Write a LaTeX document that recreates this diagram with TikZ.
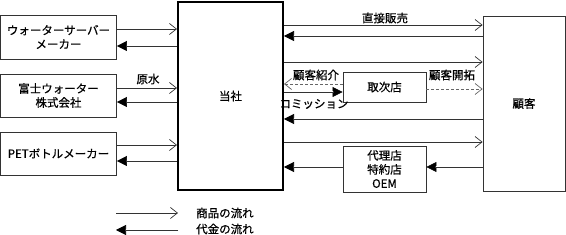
\documentclass[tikz,border=0pt]{standalone}
\usepackage{fontspec}
\setmainfont{Noto Sans CJK JP}[FakeBold=0.6]
\usetikzlibrary{arrows.meta}
\tikzset{
  box/.style={draw=black!80, line width=0.8pt, inner sep=0pt, align=center, font=\fontsize{11.5}{14}\selectfont},
  lbl/.style={inner sep=0pt, font=\fontsize{11.5}{14}\selectfont},
  single/.style={draw=black!80, line width=0.7pt, -{Straight Barb[length=7pt,width=11pt,line width=0.7pt]}},
  dashline/.style={single, dash pattern=on 3pt off 2pt, draw=black!60},
  dbltip/.style={draw=black, line width=0.6pt, -{Triangle[length=10pt,width=10pt]}},
  dblouter/.style={draw=black!80, line width=2.8pt, shorten >=9pt},
  dblinner/.style={draw=white, line width=1.0pt, shorten >=10pt},
}
\newcommand\dblarr[2]{\draw[dbltip] #1 -- #2; \draw[dblouter] #1 -- #2; \draw[dblinner] #1 -- #2;}
\begin{document}
\begin{tikzpicture}[x=1pt,y=-1pt]
\useasboundingbox (0,0) rectangle (566,235);
% boxes
\node[box, minimum width=116pt, minimum height=44pt] (ws) at (58.5,37) {ウォーターサーバー\\メーカー};
\node[box, minimum width=116pt, minimum height=43pt] (fuji) at (58.5,95.5) {富士ウォーター\\株式会社};
\node[box, minimum width=116pt, minimum height=43pt] (pet) at (58.5,153.5) {PETボトルメーカー};
\node[box, line width=2pt, draw=black, minimum width=105pt, minimum height=188pt] (tosha) at (230.5,96) {当社};
\node[box, minimum width=82pt, minimum height=175pt] (kok) at (524,103.5) {顧客};
\node[box, minimum width=83pt, minimum height=30pt] (tori) at (384.5,87) {取次店};
\node[box, minimum width=83pt, minimum height=46pt] (dairi) at (384.5,169) {代理店\\特約店\\OEM};
% left side
\draw[single] (ws.east |- 0,29) -- (tosha.west |- 0,29);
\dblarr{(tosha.west |- 0,46)}{(ws.east |- 0,46)}
\draw[single] (fuji.east |- 0,88) -- (tosha.west |- 0,88);
\dblarr{(tosha.west |- 0,102)}{(fuji.east |- 0,102)}
\draw[single] (pet.east |- 0,145) -- (tosha.west |- 0,145);
\dblarr{(tosha.west |- 0,161)}{(pet.east |- 0,161)}
\node[lbl] (gensui) at (148,79) {原水};
% right side
\draw[single] (tosha.east |- 0,25) -- (kok.west |- 0,25);
\node[lbl] (chokusetsu) at (385,18) {直接販売};
\dblarr{(kok.west |- 0,36)}{(tosha.east |- 0,36)}
\draw[single] (tosha.east |- 0,62) -- (kok.west |- 0,62);
\draw[dashline] (tori.west |- 0,84) -- (tosha.east |- 0,84);
\node[lbl] (shokai) at (316,75) {顧客紹介};
\dblarr{(tosha.east |- 0,92)}{(tori.west |- 0,92)}
\node[lbl] (commission) at (314,104) {コミッション};
\draw[dashline] (tori.east |- 0,89) -- (kok.west |- 0,89);
\node[lbl] (kaitaku) at (452,75) {顧客開拓};
\dblarr{(kok.west |- 0,119)}{(tosha.east |- 0,119)}
\draw[single] (tosha.east |- 0,142) -- (kok.west |- 0,142);
\dblarr{(dairi.west |- 0,167)}{(tosha.east |- 0,167)}
\dblarr{(kok.west |- 0,167)}{(dairi.east |- 0,167)}
% legend
\coordinate (l1a) at (116,213);
\coordinate (l1b) at (178,213);
\coordinate (l2a) at (178,230);
\coordinate (l2b) at (116,230);
\draw[single] (l1a) -- (l1b);
\dblarr{(l2a)}{(l2b)}
\node[lbl, anchor=west] (leg1) at (196,213) {商品の流れ};
\node[lbl, anchor=west] (leg2) at (196,229) {代金の流れ};
\end{tikzpicture}
\end{document}
